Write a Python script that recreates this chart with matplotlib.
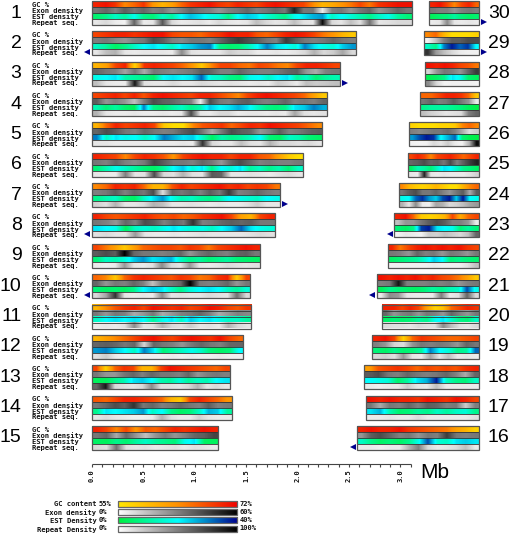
import numpy as np
import matplotlib
matplotlib.use('Agg')
import matplotlib.pyplot as plt
from matplotlib.colors import LinearSegmentedColormap
from matplotlib.patches import Rectangle

# chromosome lengths in Mb, chromosome 1 first
lengths = [3.11, 2.57, 2.41, 2.29, 2.24, 2.05, 1.83, 1.78, 1.63, 1.54, 1.55, 1.47, 1.34, 1.36, 1.23,
           1.19, 1.10, 1.12, 1.05, 0.95, 1.00, 0.89, 0.83, 0.78, 0.70, 0.69, 0.58, 0.53, 0.54, 0.49]

# little triangle next to some chromosomes
arrows = {2: '<', 3: '>', 7: '>', 8: '<', 10: '<', 16: '<', 21: '<', 23: '<', 29: '>', 30: '>'}

track_names = ['GC %', 'Exon density', 'EST density', 'Repeat seq.']

# GC percent along each chromosome
gc = [
    [70,71,69,64,66,69,63,60,62,66,69,70,71,69,68,70,69,68,70,71,70,69,68,64,60,61,63,65,68,65,69,70,71,71],
    [68,69,70,70,69,70,71,71,68,67,67,66,68,69,71,70,70,67,66,68,70,71,70,68,65,63,60,58],
    [60,62,68,70,57,69,70,69,68,66,63,58,64,68,68,66,65,68,67,65,64,68,70,70,69,68],
    [68,69,70,68,70,67,70,71,70,69,68,70,70,68,66,64,68,70,71,70,69,68,66,62,58],
    [60,66,70,68,69,70,68,58,56,56,64,67,68,69,66,68,70,69,71,70,69,68,66,64],
    [70,69,68,64,68,70,69,67,63,68,70,71,70,70,68,70,70,67,66,62,58,56],
    [64,66,70,69,70,66,60,60,67,70,68,69,70,71,69,70,68,69,68,65],
    [70,68,67,68,69,70,68,67,68,66,67,69,70,71,68,62,60,68,70],
    [68,65,62,58,62,66,67,68,68,67,69,68,65,68,69,70,71,70],
    [66,64,58,66,69,70,69,68,67,69,68,65,66,69,70,58,68],
    [60,64,67,69,70,68,71,70,69,70,68,69,71,70,68,67,69],
    [60,62,64,66,68,70,71,69,68,70,71,70,69,71,68,66],
    [68,57,66,69,68,60,60,68,71,70,69,68,67,66,68],
    [67,66,68,70,70,69,68,66,60,58,68,70,68,66,63],
    [70,68,64,68,63,67,66,68,70,69,70,71,70],
    [70,71,70,70,71,69,68,67,66,65,62,60,57],
    [71,70,71,70,70,69,71,70,69,71,70,68],
    [62,67,68,69,68,66,68,67,68,67,69,70],
    [70,71,68,57,66,69,68,67,66,66,67,68],
    [70,70,68,70,68,62,57,59,66,68,70,69],
    [71,70,71,70,71,69,70,68,67,65,62,58],
    [70,65,68,70,71,70,71,70,71,69,68],
    [70,71,66,58,57,58,60,68,61,66,68],
    [64,60,58,57,58,60,58,56,56,60,64,66],
    [68,70,68,64,68,69,70,68,66,68,70],
    [57,56,56,56,57,57,58,64,66,64],
    [66,66,68,70,70,69,66,58],
    [71,70,71,70,68,67,65],
    [64,66,60,56,56,56,57],
    [70,71,68,64,68,70,66],
]

# exon density percent
exon = [
    [32,36,30,38,32,36,30,32,25,30,36,32,30,25,30,32,36,30,32,36,32,52,32,32,5,30,32,25,32,36,25,30,36,32],
    [30,32,28,25,30,32,42,38,30,28,32,32,30,36,42,46,42,38,32,30,46,38,32,30,32,36,32,30],
    [36,32,30,22,32,20,32,30,28,30,32,38,36,30,30,36,32,30,30,32,36,38,25,20,30,32],
    [38,25,30,25,15,30,42,38,36,32,30,5,42,32,30,36,38,32,30,32,36,30,32,30,36],
    [36,42,38,32,30,36,32,30,32,38,42,32,20,32,42,38,36,25,30,38,30,32,36,38],
    [32,30,36,30,28,32,44,38,32,32,30,36,32,25,36,42,36,30,32,30,30,32],
    [30,32,38,30,36,32,42,8,36,32,36,30,38,32,46,30,32,36,32,30],
    [32,30,25,36,30,42,38,30,36,32,48,30,32,36,38,36,38,32,32],
    [38,42,38,60,36,32,32,30,32,36,25,32,36,32,30,36,38,32],
    [36,25,32,30,36,30,15,30,32,36,60,32,30,32,36,25,32],
    [32,25,32,30,20,25,32,20,25,30,32,36,30,20,25,30,28],
    [36,38,36,32,36,10,36,32,30,25,32,36,32,30,36,36],
    [32,25,25,32,36,30,36,32,32,30,36,25,30,32,30],
    [32,36,42,38,48,32,36,30,32,36,32,30,38,30,32],
    [32,36,20,36,25,15,25,32,25,30,36,38,44],
    [25,38,42,36,30,32,25,32,30,46,32,30,32],
    [32,20,32,30,36,30,38,36,30,32,12,30],
    [38,42,32,30,36,32,30,32,36,30,20,36],
    [30,25,10,8,25,32,30,32,30,25,36,32],
    [36,25,30,32,25,32,30,25,36,30,25,32],
    [30,32,55,30,30,30,32,30,32,25,30,32],
    [32,30,25,36,30,32,25,32,30,25,32],
    [15,25,25,32,38,42,38,30,30,25,5],
    [32,38,42,32,32,36,30,25,32,38,20,38],
    [36,38,42,36,38,32,42,30,38,46,52],
    [30,28,30,32,32,35,30,20,8,12],
    [32,36,30,32,38,32,25,5],
    [10,25,32,30,25,36,46],
    [3,15,30,38,38,42,42],
    [32,30,30,25,30,32,30],
]

# EST density percent
est = [
    [5,8,14,10,18,8,6,14,10,20,25,22,18,16,8,20,24,22,16,12,8,18,22,26,28,14,20,16,12,8,14,18,10,6],
    [14,10,4,8,14,20,22,18,14,22,24,28,30,8,5,6,12,20,30,22,20,16,30,22,18,16,24,28],
    [18,20,22,12,10,8,5,20,22,20,22,32,16,14,8,6,18,20,14,20,22,10,14,6,10,12],
    [12,6,10,5,3,30,8,5,10,14,8,12,24,20,22,26,22,14,8,6,8,22,24,30,26],
    [30,14,22,18,20,14,20,30,26,22,24,14,4,12,8,10,14,20,6,4,14,12,6,4],
    [6,12,18,14,10,6,4,10,20,24,16,22,8,20,16,22,10,14,8,12,6,14],
    [8,12,14,6,4,14,22,28,18,12,14,10,8,12,20,18,16,14,20,18],
    [22,20,18,4,14,16,14,18,22,18,16,18,14,20,24,32,22,18,16],
    [6,14,12,16,24,28,22,24,26,14,8,10,6,8,10,6,5,4],
    [6,4,5,4,8,20,24,22,14,8,16,20,22,20,14,10,16],
    [14,20,22,20,22,20,10,18,22,14,24,20,22,18,14,14,10],
    [28,30,24,20,14,30,22,6,10,14,18,14,6,4,6,20],
    [3,3,8,12,22,24,20,12,10,16,10,14,12,20,22],
    [8,22,20,22,24,28,14,20,8,4,6,14,26,24,10],
    [4,3,8,5,10,14,10,8,6,18,22,4,3],
    [14,8,4,6,4,8,18,34,16,14,22,24,22],
    [22,26,12,5,6,10,8,14,10,14,16,8],
    [20,18,16,5,10,22,26,38,14,8,6,14],
    [6,4,8,5,6,10,30,20,16,8,10,32],
    [4,6,5,6,10,8,18,22,14,8,6,14],
    [3,8,6,5,4,6,10,8,12,14,34,18],
    [4,6,8,10,16,24,20,6,8,6,5],
    [6,4,8,35,38,22,20,18,6,10,6],
    [18,20,32,36,28,24,34,38,24,38,20,18],
    [4,12,10,6,14,22,20,14,8,6,4],
    [28,34,38,36,20,26,32,6,2,1],
    [8,10,10,10,8,6,3,1],
    [2,4,8,22,18,5,3],
    [14,8,30,38,32,36,20],
    [3,5,6,10,6,4,5],
]

# repeat density percent
rep = [
    [10,15,8,5,60,8,10,65,15,8,10,12,8,15,10,8,10,25,15,10,12,25,12,10,95,15,10,25,12,55,10,12,15,15],
    [10,25,30,10,8,10,10,10,8,45,12,10,10,10,20,15,15,8,8,10,8,10,15,30,15,20,35,15],
    [25,10,8,8,90,12,10,10,15,10,10,15,12,10,12,10,8,10,8,20,15,8,25,20,22,25],
    [30,10,8,8,10,8,8,10,8,10,70,10,8,15,15,8,10,10,8,10,8,35,12,10,12],
    [10,10,8,8,8,8,8,8,8,10,8,80,15,10,10,25,12,10,30,15,15,12,15,10],
    [10,8,8,50,10,12,70,15,12,30,12,10,65,60,10,10,12,10,8,12,15,10],
    [18,12,30,10,10,14,30,25,10,10,12,10,8,10,8,8,12,20,10,10],
    [12,15,10,10,40,10,8,8,10,8,10,12,10,10,10,10,12,15,12],
    [8,6,8,40,10,8,12,45,15,10,40,10,8,10,15,12,10,12],
    [15,35,80,10,8,10,8,45,10,12,10,10,15,12,10,55,15],
    [8,10,8,12,45,10,12,30,15,12,20,10,12,8,30,15,10],
    [12,20,8,6,6,6,6,6,8,6,8,6,6,8,6,6],
    [60,90,15,12,10,15,45,12,12,10,15,30,10,15,10],
    [10,14,10,8,6,6,8,30,12,8,8,18,10,8,8],
    [15,12,55,12,10,12,8,10,12,8,12,10,8],
    [8,8,6,8,8,30,50,15,8,10,14,25,8],
    [8,8,10,8,8,14,8,8,8,8,8,12],
    [8,6,8,8,20,10,8,25,8,8,8,8],
    [15,18,12,40,10,8,35,10,25,8,10,8],
    [14,12,12,10,15,12,12,45,25,12,10,15],
    [8,45,40,10,8,8,8,50,8,12,60,15],
    [6,6,6,6,6,8,6,6,6,12,25],
    [5,10,8,5,20,18,25,20,15,25,60],
    [30,10,45,8,6,35,30,15,18,25,35,40],
    [10,8,85,10,8,10,8,8,8,12,18],
    [6,5,6,15,10,20,8,5,30,95],
    [25,18,14,10,12,14,50,60],
    [45,15,5,6,6,6,5],
    [80,40,25,15,8,6,6],
    [8,10,45,10,8,10,8],
]

legend_names = ['GC content', 'Exon density', 'EST Density', 'Repeat Density']
legend_low = ['55%', '0%', '0%', '0%']
legend_high = ['72%', '60%', '40%', '100%']

gc_cmap = LinearSegmentedColormap.from_list('gc', ['#ffe800', '#ff9000', '#f00000'])
grey_cmap = LinearSegmentedColormap.from_list('grey', ['#ffffff', '#000000'])
est_cmap = LinearSegmentedColormap.from_list('est', ['#00f040', '#00ffff', '#00008c'])

tracks = [(gc, gc_cmap, 55, 72), (exon, grey_cmap, 0, 60), (est, est_cmap, 0, 40), (rep, grey_cmap, 0, 100)]

px_per_mb = 102.8
x_left = 92
x_right = 479.5
row_top = 1
row_step = 30.35
track_h = 6


def mb(px):
    return (px - x_left) / px_per_mb


def strip(ax, values, x0, x1, y, cmap, vmin, vmax):
    ax.imshow(np.array(values, dtype=float)[None, :], extent=(x0, x1, y + track_h, y), aspect='auto',
              cmap=cmap, vmin=vmin, vmax=vmax, interpolation='bilinear', zorder=1)


fig = plt.figure(figsize=(5.10, 5.34), dpi=100)
ax = fig.add_axes([0, 0, 1, 1])

for i, length in enumerate(lengths):
    num = i + 1
    if num <= 15:
        row = i
        x0 = 0
        x1 = length
    else:
        row = 30 - num
        x1 = mb(x_right)
        x0 = x1 - length
    top = row_top + row * row_step

    for t, (data, cmap, vmin, vmax) in enumerate(tracks):
        strip(ax, data[i], x0, x1, top + t * track_h, cmap, vmin, vmax)
    ax.hlines([top + track_h * k for k in (1, 2, 3)], x0, x1, color='#333333', lw=0.6, zorder=2)
    ax.add_patch(Rectangle((x0, top), x1 - x0, 4 * track_h, fill=False, ec='#555555', lw=0.9, zorder=3))

    if num <= 15:
        for t, name in enumerate(track_names):
            ax.text(mb(32), top + 3.8 + t * track_h, name, family='DejaVu Sans Mono', weight='bold',
                    fontsize=5.1, va='center', ha='left', color='#111111')
        ax.text(mb(21.5), top + 12, str(num), family='Liberation Sans', fontsize=14, va='center', ha='right')
    else:
        ax.text(mb(488), top + 12, str(num), family='Liberation Sans', fontsize=14, va='center', ha='left')

    if num in arrows:
        if arrows[num] == '<':
            ax.plot(x0 - 4.5 / px_per_mb, top + 21, marker='<', color='#00008c', ms=4.6, mew=0, clip_on=False)
        else:
            ax.plot(x1 + 5 / px_per_mb, top + 21, marker='>', color='#00008c', ms=4.6, mew=0, clip_on=False)

# Mb scale
scale_y = 463.5
scale_ticks = np.arange(0, 3.15, 0.1)
ax.hlines(scale_y, 0, 3.1, color='#444444', lw=0.8)
ax.vlines(scale_ticks, scale_y, scale_y + 3.5, color='#444444', lw=0.8)
for tick in [0.0, 0.5, 1.0, 1.5, 2.0, 2.5, 3.0]:
    ax.text(tick, 476, '%.1f' % tick, family='DejaVu Sans Mono', weight='bold', fontsize=5.1,
            rotation=90, va='center', ha='center', color='#111111')
ax.text(mb(420), 473, 'Mb', family='Liberation Sans', fontsize=15, va='center', ha='left')

# colour key
ramp = np.linspace(0, 1, 256)[None, :]
key_cmaps = [gc_cmap, grey_cmap, est_cmap, grey_cmap]
for k, name in enumerate(legend_names):
    y = 500.7 + k * 8.33
    ax.imshow(ramp, extent=(mb(118), mb(237), y + 6, y), aspect='auto', cmap=key_cmaps[k], zorder=1)
    ax.add_patch(Rectangle((mb(118), y), 119 / px_per_mb, 6, fill=False, ec='#666666', lw=0.9, zorder=3))
    ax.text(mb(96.5), y + 3.6, name, family='DejaVu Sans Mono', weight='bold', fontsize=5.1, va='center', ha='right', color='#111111')
    ax.text(mb(99), y + 2.8, legend_low[k], family='DejaVu Sans Mono', weight='bold', fontsize=5.1, va='center', ha='left', color='#111111')
    ax.text(mb(239.5), y + 2.8, legend_high[k], family='DejaVu Sans Mono', weight='bold', fontsize=5.1, va='center', ha='left', color='#111111')

ax.set_xlim(mb(0), mb(510))
ax.set_ylim(534, 0)
ax.axis('off')
fig.savefig('out.png', dpi=100)
